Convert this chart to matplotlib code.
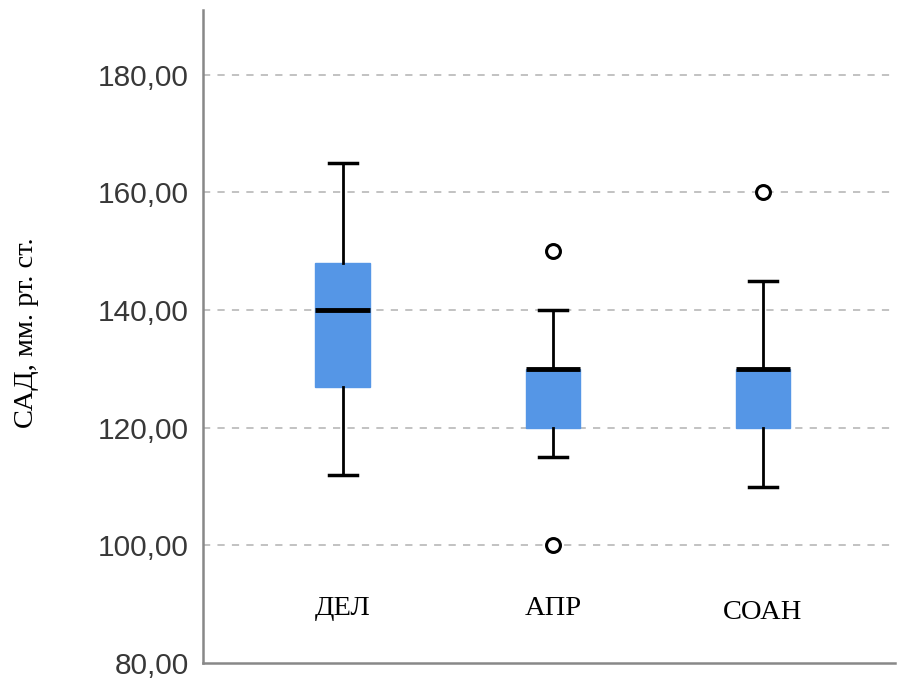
import matplotlib
matplotlib.use("Agg")
import matplotlib.pyplot as plt

groups = ["ДЕЛ", "АПР", "СОАН"]
q1 = [127, 120, 120]
med = [140, 130, 130]
q3 = [148, 130, 130]
whisker_low = [112, 115, 110]
whisker_high = [165, 140, 145]
outliers = [[], [150, 100], [160]]
y_ticks = [80, 100, 120, 140, 160, 180]

stats = []
for i, g in enumerate(groups):
    stats.append(dict(label=g, q1=q1[i], med=med[i], q3=q3[i],
                      whislo=whisker_low[i], whishi=whisker_high[i],
                      fliers=outliers[i]))

fig = plt.figure(figsize=(8.98, 6.86), dpi=100)
ax = fig.add_axes([203 / 898, 1 - 663 / 686, (895 - 203) / 898, (663 - 10) / 686])

positions = [1, 2, 3]
ax.bxp(stats, positions=positions, widths=0.26, patch_artist=True,
       boxprops=dict(facecolor="#5596e6", edgecolor="#5596e6", linewidth=1),
       medianprops=dict(color="black", linewidth=3.5, solid_capstyle="butt"),
       whiskerprops=dict(color="black", linewidth=2),
       capprops=dict(color="black", linewidth=2.5),
       capwidths=0.133,
       flierprops=dict(marker="o", markerfacecolor="white", markeredgecolor="black",
                       markersize=10, markeredgewidth=2.2),
       zorder=3)

ax.set_xlim(0.335, 3.628)
ax.set_ylim(80, 191)
ax.set_yticks(y_ticks)
ax.set_yticklabels([f"{v:.2f}".replace(".", ",") for v in y_ticks],
                   fontsize=21.5, color="#383838", family="Liberation Sans")
ax.tick_params(axis="y", length=0, pad=10)
ax.set_xticks([])

for v in y_ticks[1:]:
    ax.axhline(v, color="#bdbdbd", linewidth=1.3, linestyle=(0, (4, 4)), zorder=1)

for s in ["top", "right"]:
    ax.spines[s].set_visible(False)
for s in ["left", "bottom"]:
    ax.spines[s].set_color("#888888")
    ax.spines[s].set_linewidth(1.8)

label_y = [89.3, 89.3, 88.5]
for p, g, ly in zip(positions, groups, label_y):
    ax.text(p, ly, g, ha="center", va="center", fontsize=20.5,
            family="Liberation Serif", color="black")

fig.text(27 / 898, 1 - 333 / 686, "САД, мм. рт. ст.", rotation=90,
         ha="center", va="center", fontsize=20.5, family="Liberation Serif")

fig.savefig("out.png", dpi=100, facecolor="white")
